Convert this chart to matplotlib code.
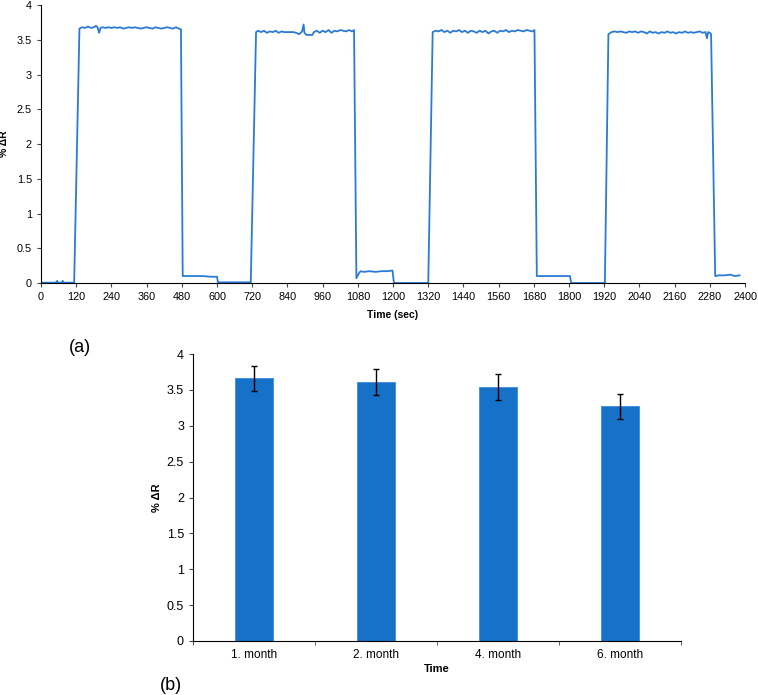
import numpy as np
import matplotlib
matplotlib.use("Agg")
from matplotlib import pyplot as plt

plt.rcParams["font.family"] = ["Liberation Sans", "DejaVu Sans"]

# (a) response vs time
time_sec = [0, 50, 55, 58, 62, 70, 74, 77, 82, 113,
            131, 140, 150, 160, 170, 180, 187, 193, 198, 203, 210, 220, 230, 240, 250, 260, 270, 280, 290, 300,
            310, 320, 330, 340, 350, 360, 370, 380, 390, 400, 410, 420, 430, 440, 450, 460, 470, 477,
            483, 490, 520, 550, 580, 600, 603, 640, 680, 715,
            733, 740, 750, 760, 770, 780, 790, 800, 810, 820, 830, 840, 850, 860, 870, 880, 885, 890, 895, 898,
            905, 915, 925, 930, 940, 950, 960, 970, 980, 990, 1000, 1010, 1020, 1030, 1040, 1050, 1060, 1067,
            1075, 1085, 1090, 1100, 1120, 1140, 1160, 1180, 1198, 1203, 1240, 1280, 1320,
            1335, 1345, 1355, 1365, 1375, 1385, 1395, 1405, 1415, 1425, 1435, 1445, 1455, 1465, 1475, 1485,
            1495, 1505, 1515, 1525, 1535, 1545, 1555, 1565, 1575, 1585, 1595, 1605, 1615, 1625, 1635, 1645,
            1655, 1665, 1675, 1682,
            1690, 1700, 1740, 1780, 1803, 1807, 1850, 1890, 1922,
            1934, 1945, 1955, 1965, 1975, 1985, 1995, 2005, 2015, 2025, 2035, 2045, 2055, 2065, 2075, 2085,
            2095, 2105, 2115, 2125, 2135, 2145, 2155, 2165, 2175, 2185, 2195, 2205, 2215, 2225, 2235, 2245,
            2255, 2265, 2270, 2274, 2280, 2284,
            2298, 2310, 2330, 2350, 2365, 2381]
delta_r = [0.005, 0.005, 0.03, 0.005, 0.005, 0.005, 0.03, 0.005, 0.005, 0.005,
           3.66, 3.68, 3.67, 3.69, 3.67, 3.68, 3.70, 3.68, 3.60, 3.67, 3.68, 3.67, 3.68, 3.67, 3.68, 3.67, 3.68, 3.66, 3.67, 3.68,
           3.67, 3.68, 3.67, 3.66, 3.67, 3.68, 3.67, 3.66, 3.68, 3.67, 3.66, 3.67, 3.68, 3.67, 3.66, 3.68, 3.66, 3.65,
           0.10, 0.10, 0.10, 0.10, 0.09, 0.09, 0.01, 0.01, 0.01, 0.01,
           3.61, 3.63, 3.61, 3.63, 3.60, 3.62, 3.61, 3.63, 3.60, 3.62, 3.61, 3.61, 3.61, 3.61, 3.60, 3.58, 3.60, 3.62, 3.72, 3.60,
           3.57, 3.57, 3.57, 3.61, 3.63, 3.60, 3.63, 3.61, 3.64, 3.60, 3.63, 3.62, 3.64, 3.63, 3.62, 3.64, 3.62, 3.64,
           0.07, 0.15, 0.17, 0.16, 0.17, 0.16, 0.17, 0.17, 0.18, 0.0, 0.0, 0.0, 0.0,
           3.61, 3.63, 3.62, 3.64, 3.61, 3.63, 3.60, 3.63, 3.62, 3.64, 3.61, 3.63, 3.60, 3.63, 3.62, 3.60,
           3.63, 3.61, 3.63, 3.59, 3.62, 3.63, 3.60, 3.63, 3.62, 3.64, 3.61, 3.63, 3.62, 3.64, 3.63, 3.62,
           3.64, 3.63, 3.62, 3.64,
           0.10, 0.10, 0.10, 0.10, 0.10, 0.0, 0.0, 0.0, 0.0,
           3.58, 3.61, 3.62, 3.61, 3.62, 3.61, 3.60, 3.62, 3.61, 3.62, 3.60, 3.62, 3.61, 3.59, 3.62, 3.60,
           3.61, 3.59, 3.61, 3.60, 3.62, 3.60, 3.61, 3.59, 3.61, 3.60, 3.62, 3.60, 3.61, 3.60, 3.61, 3.62,
           3.60, 3.61, 3.52, 3.61, 3.60, 3.58,
           0.10, 0.11, 0.11, 0.12, 0.10, 0.11]

# (b) stability over months
months = ["1. month", "2. month", "4. month", "6. month"]
month_mean = [3.66, 3.61, 3.54, 3.27]
month_err = [0.18, 0.18, 0.18, 0.17]

ytick_vals = [0, 0.5, 1, 1.5, 2, 2.5, 3, 3.5, 4]
ytick_txt = ["0", "0.5", "1", "1.5", "2", "2.5", "3", "3.5", "4"]

fig = plt.figure(figsize=(7.58, 6.95), dpi=100)

# %% (a)
ax1 = fig.add_axes([0.0541, 0.5928, 0.9289, 0.4])
ax1.plot(time_sec, delta_r, color="#2a7bd6", lw=1.3)
ax1.set_xlim(0, 2400)
ax1.set_ylim(0, 4)
ax1.set_xticks(np.arange(0, 2401, 120))
ax1.set_yticks(ytick_vals)
ax1.set_yticklabels(ytick_txt)
ax1.spines["top"].set_visible(False)
ax1.spines["right"].set_visible(False)
ax1.tick_params(labelsize=7.8, length=3, color="#444444")
ax1.set_xlabel("Time (sec)", fontsize=7.5, fontweight="bold", labelpad=6)
ax1.set_ylabel("% ΔR", fontsize=7.5, fontweight="bold")
ax1.yaxis.set_label_coords(-0.046, 0.5)
fig.text(80 / 758, 1 - 347 / 695, "(a)", fontsize=13, ha="center", va="center")

# %% (b)
ax2 = fig.add_axes([0.2546, 0.0777, 0.6438, 0.4129])
pos = np.arange(len(months))
ax2.bar(pos, month_mean, width=0.31, color="#1572c8", edgecolor="#3a8ee0", lw=0.6,
        yerr=month_err, capsize=2.5, error_kw={"ecolor": "black", "elinewidth": 1, "capthick": 1})
ax2.set_xlim(-0.5, 3.5)
ax2.set_ylim(0, 4)
ax2.set_xticks(pos)
ax2.set_xticklabels(months)
ax2.set_xticks(np.arange(-0.5, 3.6, 1), minor=True)
ax2.tick_params(axis="x", which="major", length=0, labelsize=8.5, pad=6)
ax2.tick_params(axis="x", which="minor", length=3, color="#444444")
ax2.set_yticks(ytick_vals)
ax2.set_yticklabels(ytick_txt)
ax2.tick_params(axis="y", labelsize=9, length=3, color="#444444")
ax2.spines["top"].set_visible(False)
ax2.spines["right"].set_visible(False)
ax2.set_xlabel("Time", fontsize=8, fontweight="bold", labelpad=2)
ax2.set_ylabel("% ΔR", fontsize=8, fontweight="bold")
ax2.yaxis.set_label_coords(-0.064, 0.5)
fig.text(171 / 758, 1 - 686 / 695, "(b)", fontsize=13, ha="center", va="center")

plt.savefig("out.png", dpi=100)
